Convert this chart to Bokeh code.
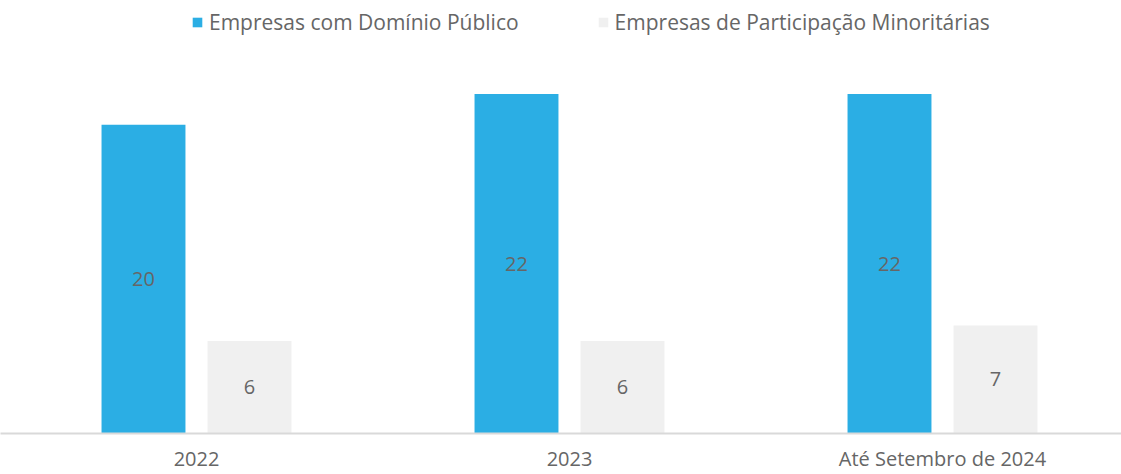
from bokeh.plotting import figure
from bokeh.models import Range1d, ColumnDataSource, Legend, LegendItem, FixedTicker
from bokeh.core.properties import value
from bokeh.embed import file_html
from bokeh.resources import INLINE

categories = ["2022", "2023", "Até Setembro de 2024"]
series_names = ["Empresas com Domínio Público", "Empresas de Participação Minoritárias"]
dominio = [20, 22, 22]
minoritarias = [6, 6, 7]

BLUE = "#2BAEE4"
GREY = "#F0F0F0"
TXT = "#666666"
FONT = "Open Sans"

W, H = 1121, 474
FB = 431  # expected frame bottom in canvas px
PXU = (FB - 93) / 22.0
p = figure(width=W, height=H, output_backend="svg", toolbar_location=None,
           x_range=Range1d(-196 / 373.0, (W - 196) / 373.0), y_range=Range1d(0, FB / PXU),
           min_border_left=0, min_border_right=0, min_border_top=0, min_border_bottom=0)

xs = list(range(len(categories)))
off = 0.1421
bw = 0.225
s1 = ColumnDataSource(dict(x=[x - off for x in xs], top=dominio, mid=[v / 2 for v in dominio],
                           lab=[str(v) for v in dominio]))
s2 = ColumnDataSource(dict(x=[x + off for x in xs], top=minoritarias, mid=[v / 2 for v in minoritarias],
                           lab=[str(v) for v in minoritarias]))
r1 = p.vbar(x="x", top="top", width=bw, source=s1, color=BLUE, line_color=None)
r2 = p.vbar(x="x", top="top", width=bw, source=s2, color=GREY, line_color=None)

for s in (s1, s2):
    p.text(x="x", y="mid", text="lab", source=s, text_align="center", text_baseline="middle",
           text_font=value(FONT), text_font_size="20px", text_color=TXT)

p.grid.visible = False
p.yaxis.visible = False
p.outline_line_color = None
p.background_fill_color = "white"
p.border_fill_color = "white"

ax = p.xaxis[0]
ax.ticker = FixedTicker(ticks=xs)
ax.major_label_overrides = {i: c for i, c in enumerate(categories)}
ax.major_tick_line_color = None
ax.minor_tick_line_color = None
ax.axis_line_color = "#D9D9D9"
ax.axis_line_width = 2
ax.major_label_text_font = FONT
ax.major_label_text_font_size = "20px"
ax.major_label_text_color = TXT
ax.major_label_standoff = 5

legend = Legend(items=[LegendItem(label=series_names[0], renderers=[r1]),
                       LegendItem(label=series_names[1], renderers=[r2])],
                orientation="horizontal", location=(191, FB - 34),
                padding=0, margin=0, spacing=78, glyph_width=12, glyph_height=12,
                label_standoff=6, label_text_font=FONT, label_text_font_size="21px",
                label_text_color=TXT, background_fill_alpha=0, border_line_color=None)
p.add_layout(legend, "center")

open("out.html", "w").write(file_html(p, INLINE))
